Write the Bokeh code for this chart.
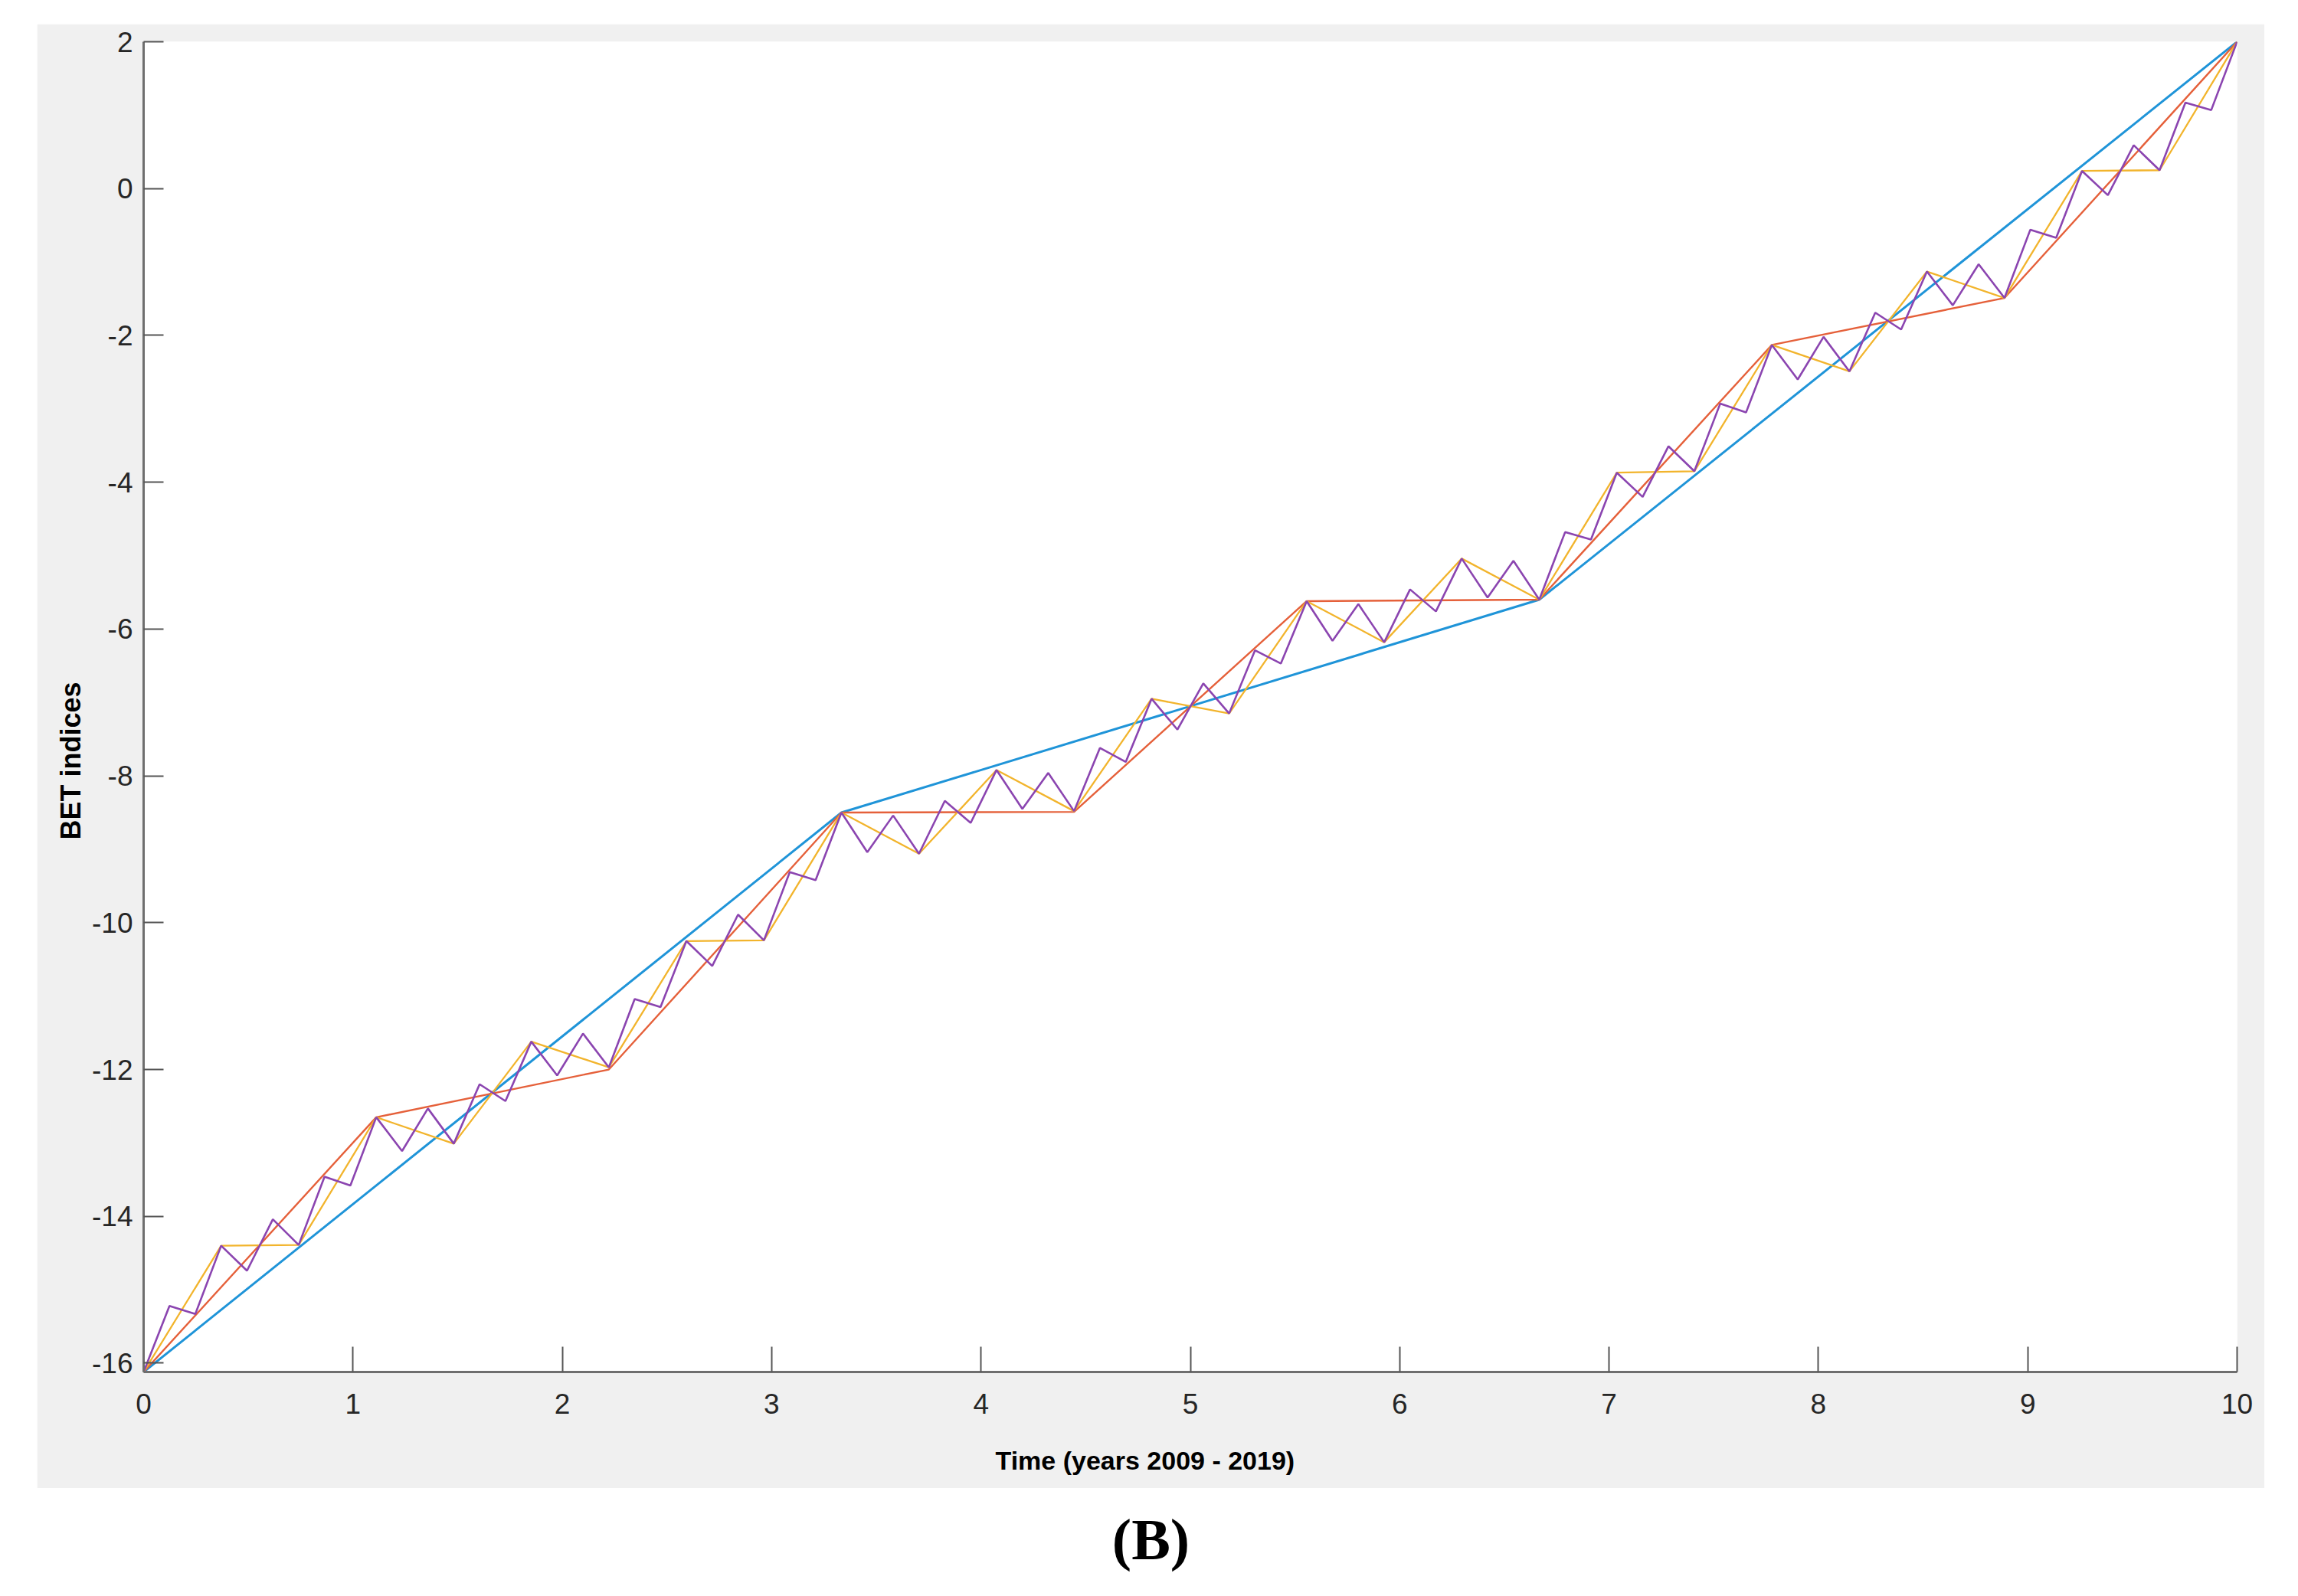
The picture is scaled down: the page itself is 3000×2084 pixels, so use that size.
import numpy as np
from bokeh.plotting import figure
from bokeh.models import Range1d, FixedTicker, Title
from bokeh.core.properties import value
from bokeh.layouts import column
from bokeh.embed import file_html
from bokeh.resources import INLINE

# ---------------- data ----------------
x_ticks = [0, 1, 2, 3, 4, 5, 6, 7, 8, 9, 10]
y_ticks = [-16, -14, -12, -10, -8, -6, -4, -2, 0, 2]

# blue: 4 points, red: 10, yellow: 28, purple: 82 (equally spaced on 0..10)
blue_y = [-16.12, -8.50, -5.60, 2.00]

red_y = [-16.12, -12.65, -12.00, -8.50, -8.49, -5.62, -5.60, -2.13, -1.49, 2.00]

yellow_y = [-16.12, -14.40, -14.39, -12.65, -13.01, -11.62, -11.97, -10.25, -10.24,
            -8.50, -9.06, -7.92, -8.48, -6.95, -7.15, -5.62, -6.18, -5.04,
            -5.60, -3.87, -3.85, -2.13, -2.49, -1.13, -1.49, 0.24, 0.25, 2.00]

purple_y = [-16.12, -15.22, -15.33, -14.40, -14.74, -14.04, -14.39, -13.46, -13.58,
            -12.65, -13.11, -12.53, -13.01, -12.20, -12.43, -11.62, -12.08, -11.51,
            -11.97, -11.04, -11.15, -10.25, -10.59, -9.89, -10.24, -9.31, -9.42,
            -8.50, -9.04, -8.54, -9.06, -8.34, -8.64, -7.92, -8.45, -7.96,
            -8.48, -7.62, -7.81, -6.95, -7.37, -6.74, -7.15, -6.29, -6.47,
            -5.62, -6.16, -5.66, -6.18, -5.46, -5.76, -5.04, -5.57, -5.07,
            -5.60, -4.68, -4.78, -3.87, -4.20, -3.51, -3.85, -2.93, -3.05,
            -2.13, -2.60, -2.02, -2.49, -1.69, -1.92, -1.13, -1.59, -1.03,
            -1.49, -0.56, -0.67, 0.24, -0.09, 0.59, 0.25, 1.17, 1.07, 2.00]

x_label = "Time (years 2009 - 2019)"
y_label = "BET indices"
panel_tag = "(B)"

T0, T1 = 0.0, 10.0
Y0, Y1 = -16.12, 2.0

GREY = "#f0f0f0"
W = 2908


def grid(n):
    return np.linspace(T0, T1, n)


# ---------------- main figure (grey MATLAB-style figure area) ----------------
p = figure(width=W, height=1912,
           x_range=Range1d(T0, T1), y_range=Range1d(Y0, Y1),
           output_backend="svg", toolbar_location=None,
           min_border_left=139, min_border_right=36,
           min_border_top=23, min_border_bottom=152)
p.title.visible = False
p.margin = (31, 0, 0, 48)
p.background_fill_color = "white"
p.border_fill_color = GREY
p.outline_line_color = None
p.grid.visible = False

p.line(grid(len(blue_y)), blue_y, line_color="#1f94d8", line_width=3)
p.line(grid(len(red_y)), red_y, line_color="#e5603a", line_width=2.4)
p.line(grid(len(yellow_y)), yellow_y, line_color="#f2b42c", line_width=2.3)
p.line(grid(len(purple_y)), purple_y, line_color="#8b45b0", line_width=2.6)

tick_font = "Liberation Sans"

p.xaxis.ticker = FixedTicker(ticks=x_ticks)
p.yaxis.ticker = FixedTicker(ticks=y_ticks)
p.xaxis.major_label_overrides = {t: str(t) for t in x_ticks}
p.yaxis.major_label_overrides = {t: str(t) for t in y_ticks}
for ax in (p.xaxis[0], p.yaxis[0]):
    ax.axis_line_color = "#6e6e6e"
    ax.axis_line_width = 3
    ax.major_tick_line_color = "#555555"
    ax.major_tick_line_width = 2
    ax.major_tick_out = 0
    ax.minor_tick_in = 0
    ax.minor_tick_out = 0
    ax.major_label_text_font = tick_font
    ax.major_label_text_font_size = "37px"
    ax.major_label_text_color = "#262626"
p.xaxis.major_tick_in = 33
p.yaxis.major_tick_in = 26
p.xaxis.major_label_standoff = 28
p.yaxis.major_label_standoff = 14

# spacer under the x tick labels so that the x title sits as low as in the reference
p.xaxis.axis_label = " "
p.xaxis.axis_label_text_font_size = "16px"
p.xaxis.axis_label_standoff = 7

# axis titles, placed off-centre as in the reference
p.add_layout(Title(text=x_label, align="left", offset=1112, standoff=20,
                   text_font="Liberation Sans", text_font_style="bold",
                   text_font_size="34px", text_color="#000000"), "below")
p.add_layout(Title(text=y_label, align="left", offset=695, standoff=10,
                   text_font="Liberation Sans", text_font_style="bold",
                   text_font_size="36px", text_color="#000000"), "left")

# ---------------- caption strip "(B)" (white) ----------------
# its plot frame is aligned with the main frame (page px 187..2920)
H2 = 130
p2 = figure(width=W, height=H2, x_range=Range1d(187, 2920), y_range=Range1d(0, H2),
            output_backend="svg", toolbar_location=None,
            x_axis_type=None, y_axis_type=None, min_border=0)
p2.title.visible = False
p2.margin = (0, 0, 0, 48)
p2.outline_line_color = None
p2.grid.visible = False
p2.background_fill_color = "white"
p2.border_fill_color = "white"
p2.text(x=[1502], y=[H2 - 66], text=[panel_tag], text_align="center",
        text_baseline="middle", text_font=value("Liberation Serif"),
        text_font_style="bold", text_font_size=value("76px"), text_color="#000000")

layout = column(p, p2, spacing=0)
open("out.html", "w").write(file_html(layout, INLINE))
